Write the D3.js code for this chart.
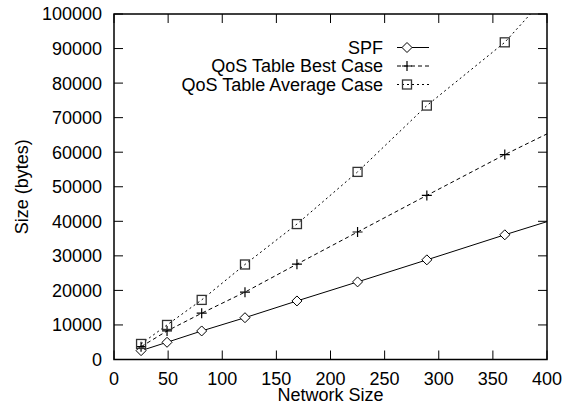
<!DOCTYPE html>
<html>
<head>
<meta charset="utf-8">
<script src="https://cdn.jsdelivr.net/npm/d3@7"></script>
<style>
  body { margin: 0; background: #fff; }
  svg { display: block; font-family: "Liberation Sans", Arial, sans-serif; }
</style>
</head>
<body>
<div id="chart"></div>
<script>
// network sizes (last one lies past the x range, lines get clipped at the border)
const networkSize = [25, 49, 81, 121, 169, 225, 289, 361, 441];
const spf = [2560, 4980, 8260, 12100, 16950, 22460, 28840, 36090, 43900];
const bestCase = [3700, 8260, 13400, 19500, 27600, 36900, 47500, 59300, 71600];
const avgCase = [4500, 10000, 17250, 27500, 39200, 54300, 73500, 91800, 119500];

const xTicks = [0, 50, 100, 150, 200, 250, 300, 350, 400];
const yTicks = [0, 10000, 20000, 30000, 40000, 50000, 60000, 70000, 80000, 90000, 100000];

const series = [
  { name: "SPF", values: spf, dash: null, marker: "diamond" },
  { name: "QoS Table Best Case", values: bestCase, dash: "4,3", marker: "plus" },
  { name: "QoS Table Average Case", values: avgCase, dash: "2,3", marker: "square" }
];

const width = 564, height = 406;
const margin = { top: 14, right: 17, bottom: 46.5, left: 114 };
const iw = width - margin.left - margin.right;
const ih = height - margin.top - margin.bottom;

const x = d3.scaleLinear().domain([0, 400]).range([0, iw]);
const y = d3.scaleLinear().domain([0, 100000]).range([ih, 0]);

const svg = d3.select("#chart").append("svg")
  .attr("width", width)
  .attr("height", height);

const g = svg.append("g").attr("transform", `translate(${margin.left},${margin.top})`);

g.append("clipPath").attr("id", "plotclip")
  .append("rect").attr("width", iw).attr("height", ih);

// ticks point inwards, mirrored on top and right
const tickLen = 9;
const fontSize = 18;

xTicks.forEach(t => {
  g.append("line").attr("x1", x(t)).attr("x2", x(t)).attr("y1", ih).attr("y2", ih - tickLen)
    .attr("stroke", "#000");
  g.append("line").attr("x1", x(t)).attr("x2", x(t)).attr("y1", 0).attr("y2", tickLen)
    .attr("stroke", "#000");
  g.append("text").attr("x", x(t)).attr("y", ih + 25)
    .attr("text-anchor", "middle").attr("font-size", fontSize).text(t);
});

yTicks.forEach(t => {
  g.append("line").attr("x1", 0).attr("x2", tickLen).attr("y1", y(t)).attr("y2", y(t))
    .attr("stroke", "#000");
  g.append("line").attr("x1", iw).attr("x2", iw - tickLen).attr("y1", y(t)).attr("y2", y(t))
    .attr("stroke", "#000");
  g.append("text").attr("x", -12).attr("y", y(t))
    .attr("dy", "0.36em")
    .attr("text-anchor", "end").attr("font-size", fontSize).text(t);
});

g.append("rect").attr("width", iw).attr("height", ih)
  .attr("fill", "none").attr("stroke", "#000").attr("stroke-width", 1.5);

// axis titles
svg.append("text").attr("x", margin.left + iw / 2).attr("y", 400.5)
  .attr("text-anchor", "middle").attr("font-size", fontSize).text("Network Size");
svg.append("text")
  .attr("transform", `translate(28,${margin.top + ih / 2}) rotate(-90)`)
  .attr("text-anchor", "middle").attr("font-size", fontSize).text("Size (bytes)");

function drawMarker(sel, type, cx, cy) {
  if (type === "diamond") {
    sel.append("path")
      .attr("d", `M${cx},${cy - 5}L${cx + 5},${cy}L${cx},${cy + 5}L${cx - 5},${cy}Z`)
      .attr("fill", "#fff").attr("stroke", "#000").attr("stroke-width", 1);
  } else if (type === "plus") {
    sel.append("path")
      .attr("d", `M${cx - 5},${cy}H${cx + 5}M${cx},${cy - 5}V${cy + 5}`)
      .attr("stroke", "#000").attr("stroke-width", 1.2);
  } else {
    sel.append("rect").attr("x", cx - 4.5).attr("y", cy - 4.5).attr("width", 9).attr("height", 9)
      .attr("fill", "none").attr("stroke", "#333").attr("stroke-width", 1.3);
  }
}

const line = d3.line().x(d => x(d[0])).y(d => y(d[1]));

series.forEach(s => {
  const pts = networkSize.map((n, i) => [n, s.values[i]]);
  g.append("path").datum(pts)
    .attr("clip-path", "url(#plotclip)")
    .attr("d", line)
    .attr("fill", "none").attr("stroke", "#000").attr("stroke-width", 1)
    .attr("stroke-dasharray", s.dash);
  const mk = g.append("g").attr("clip-path", "url(#plotclip)");
  pts.filter(p => p[0] <= 400).forEach(p => drawMarker(mk, s.marker, x(p[0]), y(p[1])));
});

// key
const keyRows = [47.5, 66, 84.5];
series.forEach((s, i) => {
  const yy = keyRows[i];
  svg.append("text").attr("x", 383).attr("y", yy).attr("dy", "0.36em")
    .attr("text-anchor", "end").attr("font-size", fontSize).text(s.name);
  svg.append("line").attr("x1", 397).attr("x2", 429).attr("y1", yy).attr("y2", yy)
    .attr("stroke", "#000").attr("stroke-width", 1).attr("stroke-dasharray", s.dash);
  drawMarker(svg, s.marker, 407, yy);
});
</script>
</body>
</html>
